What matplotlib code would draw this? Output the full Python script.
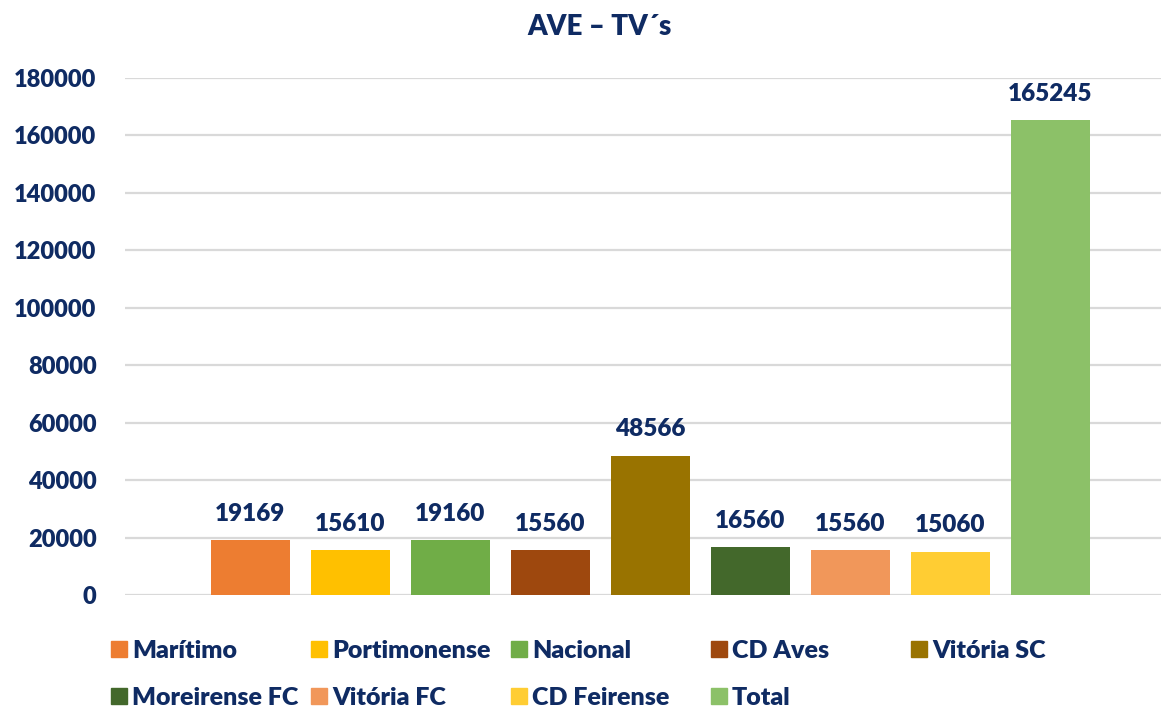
import matplotlib
matplotlib.use("Agg")
import matplotlib.pyplot as plt
from matplotlib.patches import Rectangle

categories = ["Marítimo", "Portimonense", "Nacional", "CD Aves", "Vitória SC",
              "Moreirense FC", "Vitória FC", "CD Feirense", "Total"]
values = [19169, 15610, 19160, 15560, 48566, 16560, 15560, 15060, 165245]
colors = ["#ED7D31", "#FFC000", "#70AD47", "#9E480E", "#997300",
          "#43682B", "#F1975A", "#FFCD33", "#8CC168"]
yticks = [0, 20000, 40000, 60000, 80000, 100000, 120000, 140000, 160000, 180000]

TXT = "#0F2B63"
FONT = "Lato"
WT = 800
W, H = 1161, 711

fig = plt.figure(figsize=(W / 100, H / 100), dpi=100)
ax = fig.add_axes([125 / W, 1 - 595 / H, (W - 125) / W, (595 - 78) / H])

x = list(range(len(categories)))
bars = ax.bar(x, values, width=0.79, color=colors, zorder=3)
for b, v in zip(bars, values):
    ax.annotate(str(v), (b.get_x() + b.get_width() / 2, v), xytext=(0, 11),
                textcoords="offset points", ha="center", va="bottom",
                fontsize=17.5, fontweight=WT, color=TXT, family=FONT)

ax.set_xlim(-1.25, 9.11)
ax.set_ylim(0, 180000)
ax.set_yticks(yticks)
ax.set_yticklabels([str(t) for t in yticks], fontsize=17, fontweight=WT,
                   color=TXT, family=FONT)
ax.tick_params(axis="y", length=0, pad=20.5)
ax.set_xticks([])
ax.grid(axis="y", color="#D9D9D9", linewidth=1.6, zorder=0)
for s in ax.spines.values():
    s.set_visible(False)

fig.text(600 / W, 1 - 27 / H, "AVE – TV´s", ha="center", va="center",
         fontsize=20, fontweight=WT, color=TXT, family=FONT)

# legend laid out like Excel: 5 equal columns, 2 rows
for i, (c, col) in enumerate(zip(categories, colors)):
    r, k = divmod(i, 5)
    x0 = 111 + 200 * k
    yc = 649 + 47 * r
    fig.patches.append(Rectangle((x0 / W, 1 - (yc + 8) / H), 16 / W, 16 / H,
                                 transform=fig.transFigure, color=col,
                                 figure=fig))
    fig.text((x0 + 21) / W, 1 - yc / H, c, ha="left", va="center_baseline",
             fontsize=18, fontweight=WT, color=TXT, family=FONT)

fig.savefig("out.png", dpi=100)
